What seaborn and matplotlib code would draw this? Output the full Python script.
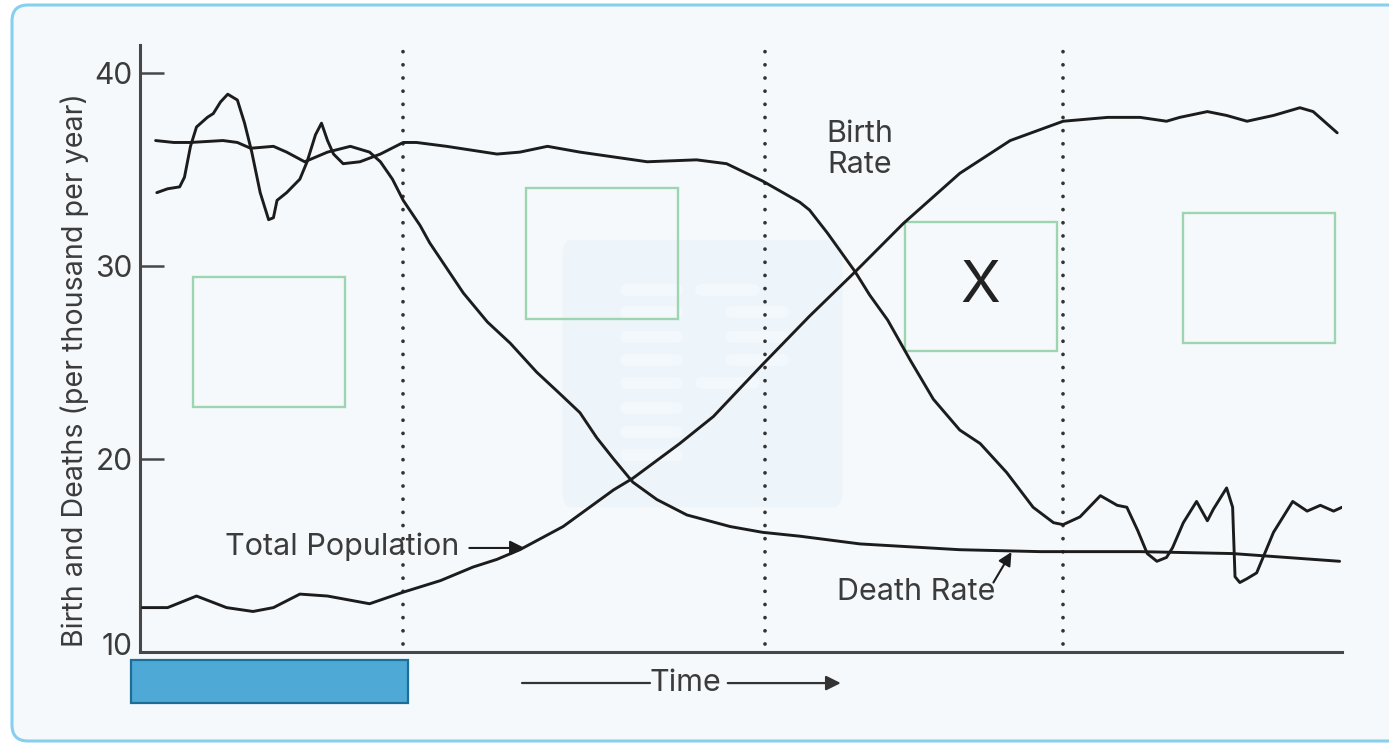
import matplotlib
matplotlib.use("Agg")
import matplotlib.pyplot as plt
import seaborn as sns
import pandas as pd
from matplotlib.patches import Rectangle, FancyBboxPatch
from matplotlib.transforms import IdentityTransform, ScaledTranslation

# ---------------- data ----------------
birth_t = [1.4, 2.3, 3.3, 3.7, 4.2, 4.7, 5.6, 6.1, 6.7, 7.3, 8.1, 8.7, 9.3, 10.0, 10.7,
           11.1, 11.4, 12.2, 13.3, 13.9, 14.6, 15.1, 15.6, 16.1, 16.9, 18.3, 20.0, 21.9,
           23.0, 25.5, 29.7, 31.6, 33.9, 36.6, 42.2, 46.3, 48.8, 51.8, 54.9, 55.7, 57.2,
           59.5, 60.7, 62.2, 64.1, 66.0, 68.2, 69.9, 72.1, 74.3, 76.0, 76.8, 78.2, 79.9,
           81.3, 82.1, 83.0, 83.8, 84.6, 85.4, 85.9, 86.8, 87.9, 88.8, 89.3, 90.4, 90.9,
           91.1, 91.5, 92.1, 92.9, 94.3, 95.9, 97.1, 98.2, 99.3, 100.0]
birth_v = [33.8, 34.0, 34.1, 34.6, 36.2, 37.2, 37.7, 37.9, 38.5, 38.9, 38.6, 37.4, 35.9,
           33.8, 32.4, 32.5, 33.4, 33.8, 34.5, 35.4, 36.8, 37.4, 36.5, 35.8, 35.3, 35.4,
           35.8, 36.4, 36.4, 36.2, 35.8, 35.9, 36.2, 35.9, 35.4, 35.5, 35.3, 34.4, 33.3,
           32.9, 31.7, 29.7, 28.5, 27.2, 25.1, 23.1, 21.5, 20.8, 19.3, 17.5, 16.7, 16.6,
           17.0, 18.1, 17.6, 17.5, 16.3, 15.1, 14.7, 14.9, 15.4, 16.7, 17.8, 16.8, 17.4,
           18.5, 17.5, 13.9, 13.6, 13.8, 14.1, 16.2, 17.8, 17.3, 17.6, 17.3, 17.5]

death_t = [1.3, 2.8, 4.2, 6.9, 8.1, 9.2, 11.1, 12.2, 13.7, 15.6, 17.5, 19.1, 20.0, 21.0,
           21.9, 23.3, 24.1, 26.9, 28.9, 30.8, 33.0, 34.9, 36.6, 38.0, 39.4, 41.0, 43.0,
           45.5, 49.1, 51.8, 54.9, 59.9, 68.2, 74.9, 83.2, 90.9, 99.8]
death_v = [36.5, 36.4, 36.4, 36.5, 36.4, 36.1, 36.2, 35.9, 35.4, 35.9, 36.2, 35.9, 35.4,
           34.5, 33.4, 32.1, 31.2, 28.6, 27.1, 26.0, 24.5, 23.4, 22.4, 21.1, 20.0, 18.8,
           17.9, 17.1, 16.5, 16.2, 16.0, 15.6, 15.3, 15.2, 15.2, 15.1, 14.7]

pop_t = [0.2, 2.3, 4.7, 7.2, 9.4, 11.1, 13.3, 15.6, 19.1, 21.9, 25.0, 27.7, 29.7, 31.6,
         35.2, 39.4, 41.0, 44.9, 47.7, 51.8, 55.7, 59.5, 63.5, 68.2, 72.4, 76.8, 80.5,
         83.2, 85.4, 86.5, 88.8, 90.4, 92.1, 94.3, 96.5, 97.6, 99.6]
pop_v = [12.3, 12.3, 12.9, 12.3, 12.1, 12.3, 13.0, 12.9, 12.5, 13.1, 13.7, 14.4, 14.8,
         15.3, 16.5, 18.4, 19.0, 20.8, 22.2, 24.9, 27.4, 29.7, 32.2, 34.8, 36.5, 37.5,
         37.7, 37.7, 37.5, 37.7, 38.0, 37.8, 37.5, 37.8, 38.2, 38.0, 36.9]

y_ticks = [10, 20, 30, 40]
y_tick_labels = ["10", "20", "30", "40"]
stage_bounds = [21.9, 52.0, 76.8]
y_label = "Birth and Deaths (per thousand per year)"

# ---------------- style ----------------
sns.set_theme(style="white")
plt.rcParams["font.family"] = ["Inter", "DejaVu Sans"]
TXT = "#3b3b3b"
LINE = "#1c1c1c"
AX = "#474747"
GREEN = "#9dd5b1"
FS = 22

fig = plt.figure(figsize=(13.89, 7.44), dpi=100)
fig.patch.set_facecolor("white")

# card background with rounded light-blue border (pixel coordinates)
card = FancyBboxPatch((12, 3), 1420, 736, boxstyle="round,pad=0,rounding_size=16",
                      transform=IdentityTransform(), facecolor="#f5f9fc",
                      edgecolor="#86d0ef", linewidth=2.2, zorder=-5)
fig.patches.append(card)

ax = fig.add_axes([140 / 1389, 1 - 652 / 744, 1202 / 1389, 607 / 744])
ax.set_zorder(1)
ax.set_facecolor("none")
ax.set_xlim(0, 100)
ax.set_ylim(10, 41.45)

# faint watermark panel (decoration)
WM_BAR = "#f3f8fc"
ax.add_patch(FancyBboxPatch((35.15, 17.5), 23.3, 13.85,
                            boxstyle="round,pad=0,rounding_size=0.8",
                            facecolor="#edf4fa", edgecolor="none", zorder=0.5))
wm_rows = [28.76, 27.62, 26.32, 25.13, 23.94, 22.64, 21.40, 20.21]
for r in wm_rows:
    ax.plot([40.4, 44.7], [r, r], color=WM_BAR, linewidth=8.5,
            solid_capstyle="round", zorder=0.6)
ax.plot([46.7, 51.1], [28.76, 28.76], color=WM_BAR, linewidth=8.5,
        solid_capstyle="round", zorder=0.6)
for r in wm_rows[1:4]:
    ax.plot([49.2, 53.5], [r, r], color=WM_BAR, linewidth=8.5,
            solid_capstyle="round", zorder=0.6)
ax.plot([46.7, 51.1], [23.94, 23.94], color=WM_BAR, linewidth=8.5,
        solid_capstyle="round", zorder=0.6)

# stage boundaries
vl = ax.vlines(stage_bounds, 10.4, 41.45, colors="#333333", linewidth=2.7,
               linestyles=[(0, (0.01, 3.5))], zorder=1)
vl.set_capstyle("round")

# curves
df_birth = pd.DataFrame({"t": birth_t, "v": birth_v})
df_death = pd.DataFrame({"t": death_t, "v": death_v})
df_pop = pd.DataFrame({"t": pop_t, "v": pop_v})
for d in (df_birth, df_death, df_pop):
    sns.lineplot(data=d, x="t", y="v", ax=ax, color=LINE, linewidth=2.1,
                 sort=False, estimator=None, zorder=3)
for ln in ax.get_lines()[-3:]:
    ln.set_solid_joinstyle("round")
    ln.set_solid_capstyle("round")

# green empty boxes
boxes = [(4.41, 22.69, 12.64, 6.74), (32.11, 27.25, 12.65, 6.79),
         (63.64, 25.60, 12.65, 6.68), (86.77, 26.01, 12.65, 6.74)]
for (x0, y0, w, h) in boxes:
    ax.add_patch(Rectangle((x0, y0), w, h, fill=False, edgecolor=GREEN,
                           linewidth=1.7, zorder=2))
ax.text(69.9, 28.9, "X", fontsize=42, color="#222222", ha="center", va="center", zorder=4)

# labels on curves
ax.text(59.9, 36.05, "Birth\nRate", fontsize=FS, color=TXT, ha="center", va="center",
        linespacing=1.15, zorder=4)
ax.text(26.6, 15.44, "Total Population", fontsize=FS, color=TXT, ha="right",
        va="center", zorder=4)
ax.annotate("", xy=(32.0, 15.39), xytext=(27.4, 15.39),
            arrowprops=dict(arrowstyle="-|>", color=LINE, lw=1.5, mutation_scale=22,
                            shrinkA=0, shrinkB=0), zorder=4)
ax.text(64.6, 13.1, "Death Rate", fontsize=FS, color=TXT, ha="center", va="center",
        zorder=4)
ax.annotate("", xy=(72.5, 15.18), xytext=(71.0, 13.6),
            arrowprops=dict(arrowstyle="-|>", color=LINE, lw=1.5, mutation_scale=20,
                            shrinkA=0, shrinkB=0), zorder=4)

# axes styling
sns.despine(ax=ax, top=True, right=True)
for s in ("left", "bottom"):
    ax.spines[s].set_color(AX)
    ax.spines[s].set_linewidth(2.2)
ax.set_xticks([])
ax.set_yticks(y_ticks)
ax.set_yticklabels(y_tick_labels)
ax.tick_params(axis="y", direction="in", length=17, width=1.8, color=AX,
               labelsize=21.5, labelcolor=TXT, pad=5.5, left=True)
lbl10 = ax.get_yticklabels()[0]
lbl10.set_transform(lbl10.get_transform() + ScaledTranslation(0, 0.08, fig.dpi_scale_trans))
ax.set_xlabel("")
ax.set_ylabel("")
ax.text(-5.4, 24.6, y_label, rotation=90, fontsize=20.6, color=TXT,
        ha="center", va="center", clip_on=False)

# blue bar under first stage
ax.add_patch(Rectangle((-0.75, 7.36), 23.04, 2.23, facecolor="#4fa9d6",
                       edgecolor="#1d6e97", linewidth=1.6, clip_on=False, zorder=2))

# time arrow
ax.plot([31.8, 42.4], [8.39, 8.39], color="#333333", linewidth=1.6, clip_on=False)
ax.text(45.4, 8.39, "Time", fontsize=FS, color=TXT, ha="center", va="center",
        clip_on=False)
ax.annotate("", xy=(58.3, 8.39), xytext=(48.9, 8.39), annotation_clip=False,
            arrowprops=dict(arrowstyle="-|>", color="#333333", lw=1.6,
                            mutation_scale=22, shrinkA=0, shrinkB=0))

fig.savefig("out.png", dpi=100, facecolor=fig.get_facecolor())
